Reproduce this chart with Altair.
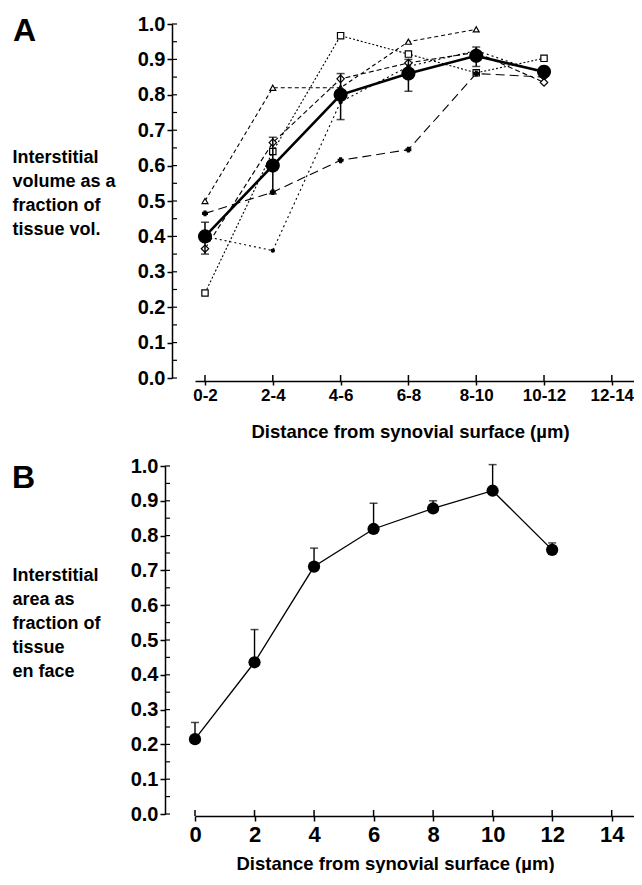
import json
import altair as alt
import pandas as pd

# ---------------- data ----------------
cats = ["0-2", "2-4", "4-6", "6-8", "8-10", "10-12", "12-14"]
mean_a = [0.40, 0.60, 0.80, 0.86, 0.91, 0.865]
mean_a_lo = [0.35, 0.52, 0.73, 0.81, 0.88, 0.85]
mean_a_hi = [0.44, 0.68, 0.86, 0.90, 0.935, 0.88]
series_tri = [0.50, 0.82, 0.82, 0.95, 0.985, None]
series_sq = [0.24, 0.64, 0.967, 0.915, 0.862, 0.903]
series_dia = [0.365, 0.665, 0.845, 0.89, 0.92, 0.835]
series_plus = [0.465, 0.525, 0.615, 0.645, 0.86, 0.85]
series_dot = [0.40, 0.36, 0.78, 0.88, 0.925, 0.86]

dist_b = [0, 2, 4, 6, 8, 10, 12]
area_b = [0.215, 0.436, 0.711, 0.819, 0.878, 0.929, 0.759]
area_b_hi = [0.263, 0.53, 0.764, 0.893, 0.90, 1.004, 0.779]

y_ticks = [round(i * 0.1, 1) for i in range(11)]
y_minor = [round(i * 0.05, 2) for i in range(21)]
x_ticks_b = [0, 2, 4, 6, 8, 10, 12, 14]

title_a = ["Interstitial", "volume as a", "fraction of", "tissue vol."]
title_b = ["Interstitial", "area as", "fraction of", "tissue", "en face"]
x_title = "Distance from synovial surface (\u00b5m)"

FONT = "Liberation Sans"
W = 439
HA = 354
HB = 348

# ---------------- panel A ----------------
rows = []
for name, vals in [("tri", series_tri), ("sq", series_sq), ("dia", series_dia),
                   ("plus", series_plus), ("dot", series_dot)]:
    for i, v in enumerate(vals):
        if v is not None:
            rows.append({"series": name, "idx": i, "v": v})
df_a = pd.DataFrame(rows)
df_mean = pd.DataFrame({"idx": list(range(len(mean_a))), "v": mean_a,
                        "lo": mean_a_lo, "hi": mean_a_hi})
df_yminor = pd.DataFrame({"v": y_minor})
df_xt_a = pd.DataFrame({"idx": list(range(len(cats)))})

label_expr = json.dumps(cats) + "[datum.value]"

AXIS_XA = alt.Axis(values=list(range(len(cats))), labelExpr=label_expr,
                   offset=3, tickSize=4, tickWidth=1.5, tickColor="black",
                   domainColor="black", domainWidth=1.5,
                   labelFont=FONT, labelFontSize=17, labelFontWeight="bold",
                   labelColor="black", labelPadding=2, labelFlush=False,
                   labelOverlap=False, grid=False,
                   title=x_title, titleFont=FONT, titleFontSize=18.5,
                   titleFontWeight="bold", titleColor="black",
                   titlePadding=19, titleX=215)
AXIS_YA = alt.Axis(values=y_ticks, format=".1f", offset=23,
                   domainColor="black", domainWidth=1.5,
                   tickColor="black", tickWidth=1.5, tickSize=5,
                   labelFont=FONT, labelFontSize=20, labelFontWeight="bold",
                   labelColor="black", labelPadding=2, labelOverlap=False,
                   grid=False,
                   title=title_a, titleAngle=0, titleAlign="left",
                   titleBaseline="top", titleX=-160, titleY=124,
                   titleFont=FONT, titleFontSize=18, titleFontWeight="bold",
                   titleColor="black", titleLineHeight=24)
SC_XA = alt.Scale(domain=[-0.1475, 6.327], nice=False, zero=False)
SC_Y = alt.Scale(domain=[0, 1], nice=False, zero=False)


def xa():
    return alt.X("idx:Q", scale=SC_XA, axis=AXIS_XA)


def ya(field="v"):
    return alt.Y(field + ":Q", scale=SC_Y, axis=AXIS_YA)


styles = {
    "tri": dict(dash=[4, 3], shape="triangle-up", size=35, fill="white"),
    "sq": dict(dash=[2, 2], shape="square", size=40, fill="white"),
    "dia": dict(dash=[5, 3], shape="diamond", size=55, fill="white"),
    "plus": dict(dash=[9, 5], shape="cross", size=22, fill="black"),
    "dot": dict(dash=[2, 3], shape="circle", size=10, fill="black"),
}

layers_a = []
for name, st in styles.items():
    sub = alt.Chart(df_a).transform_filter(alt.datum.series == name)
    layers_a.append(sub.mark_line(color="black", strokeWidth=1.1,
                                  strokeDash=st["dash"]).encode(x=xa(), y=ya()))
for name, st in styles.items():
    sub = alt.Chart(df_a).transform_filter(alt.datum.series == name)
    layers_a.append(sub.mark_point(shape=st["shape"], size=st["size"], filled=True,
                                   fill=st["fill"], stroke="black", strokeWidth=1.2,
                                   opacity=1).encode(x=xa(), y=ya()))

base_m = alt.Chart(df_mean)
layers_a += [
    base_m.mark_rule(color="black", strokeWidth=1.5).encode(
        x=xa(), y=ya("lo"), y2="hi:Q"),
    base_m.mark_tick(color="black", orient="horizontal", size=8, thickness=1.5).encode(
        x=xa(), y=ya("lo")),
    base_m.mark_tick(color="black", orient="horizontal", size=8, thickness=1.5).encode(
        x=xa(), y=ya("hi")),
    base_m.mark_line(color="black", strokeWidth=2.6).encode(x=xa(), y=ya()),
    base_m.mark_circle(color="black", size=200, opacity=1).encode(x=xa(), y=ya()),
    alt.Chart(df_yminor).mark_rule(color="black", strokeWidth=1.2).encode(
        y=ya(), x=alt.value(-23), x2=alt.value(-18)),
    alt.Chart(df_xt_a).mark_rule(color="black", strokeWidth=1.5).encode(
        x=xa(), y=alt.value(HA + 3), y2=alt.value(HA - 3)),
    alt.Chart(pd.DataFrame({"t": ["A"]})).mark_text(
        font=FONT, fontSize=32, fontWeight="bold", align="left",
        baseline="top", color="black").encode(
        text="t:N", x=alt.value(-182), y=alt.value(-8)),
]
chart_a = alt.layer(*layers_a).properties(width=W, height=HA)

# ---------------- panel B ----------------
df_b = pd.DataFrame({"d": dist_b, "v": area_b, "hi": area_b_hi})
df_xt_b = pd.DataFrame({"d": x_ticks_b})

AXIS_XB = alt.Axis(values=x_ticks_b, offset=2, tickSize=5, tickWidth=1.5,
                   tickColor="black", domainColor="black", domainWidth=1.5,
                   labelFont=FONT, labelFontSize=22, labelFontWeight="bold",
                   labelColor="black", labelPadding=3, labelFlush=False,
                   labelOverlap=False, grid=False, title=x_title, titleFont=FONT,
                   titleFontSize=18.5, titleFontWeight="bold",
                   titleColor="black", titlePadding=9, titleX=200)
AXIS_YB = alt.Axis(values=y_ticks, format=".1f", offset=30,
                   domainColor="black", domainWidth=1.5,
                   tickColor="black", tickWidth=1.5, tickSize=5,
                   labelFont=FONT, labelFontSize=20, labelFontWeight="bold",
                   labelColor="black", labelPadding=2, labelOverlap=False,
                   grid=False,
                   title=title_b, titleAngle=0, titleAlign="left",
                   titleBaseline="top", titleX=-153, titleY=100,
                   titleFont=FONT, titleFontSize=18, titleFontWeight="bold",
                   titleColor="black", titleLineHeight=24)
SC_XB = alt.Scale(domain=[0, 14.75], nice=False, zero=False)


def xb():
    return alt.X("d:Q", scale=SC_XB, axis=AXIS_XB)


def yb(field="v"):
    return alt.Y(field + ":Q", scale=SC_Y, axis=AXIS_YB)


base_b = alt.Chart(df_b)
layers_b = [
    base_b.mark_rule(color="black", strokeWidth=1.4).encode(x=xb(), y=yb(), y2="hi:Q"),
    base_b.mark_tick(color="black", orient="horizontal", size=8, thickness=1.5).encode(
        x=xb(), y=yb("hi")),
    base_b.mark_line(color="black", strokeWidth=1.3).encode(x=xb(), y=yb()),
    base_b.mark_circle(color="black", size=150, opacity=1).encode(x=xb(), y=yb()),
    alt.Chart(df_yminor).mark_rule(color="black", strokeWidth=1.2).encode(
        y=yb(), x=alt.value(-30), x2=alt.value(-25)),
    alt.Chart(df_xt_b).mark_rule(color="black", strokeWidth=1.5).encode(
        x=xb(), y=alt.value(HB + 2), y2=alt.value(HB - 4)),
    alt.Chart(pd.DataFrame({"t": ["B"]})).mark_text(
        font=FONT, fontSize=32, fontWeight="bold", align="left",
        baseline="top", color="black").encode(
        text="t:N", x=alt.value(-183), y=alt.value(-3)),
]
chart_b = alt.layer(*layers_b).properties(width=W, height=HB)

chart = alt.vconcat(chart_a, chart_b, spacing=15).configure_view(
    stroke=None).properties(
    background="white",
    padding={"top": 6, "left": 4, "right": 0, "bottom": 0})

chart.save("out.html", embed_options={"renderer": "svg", "actions": False})
